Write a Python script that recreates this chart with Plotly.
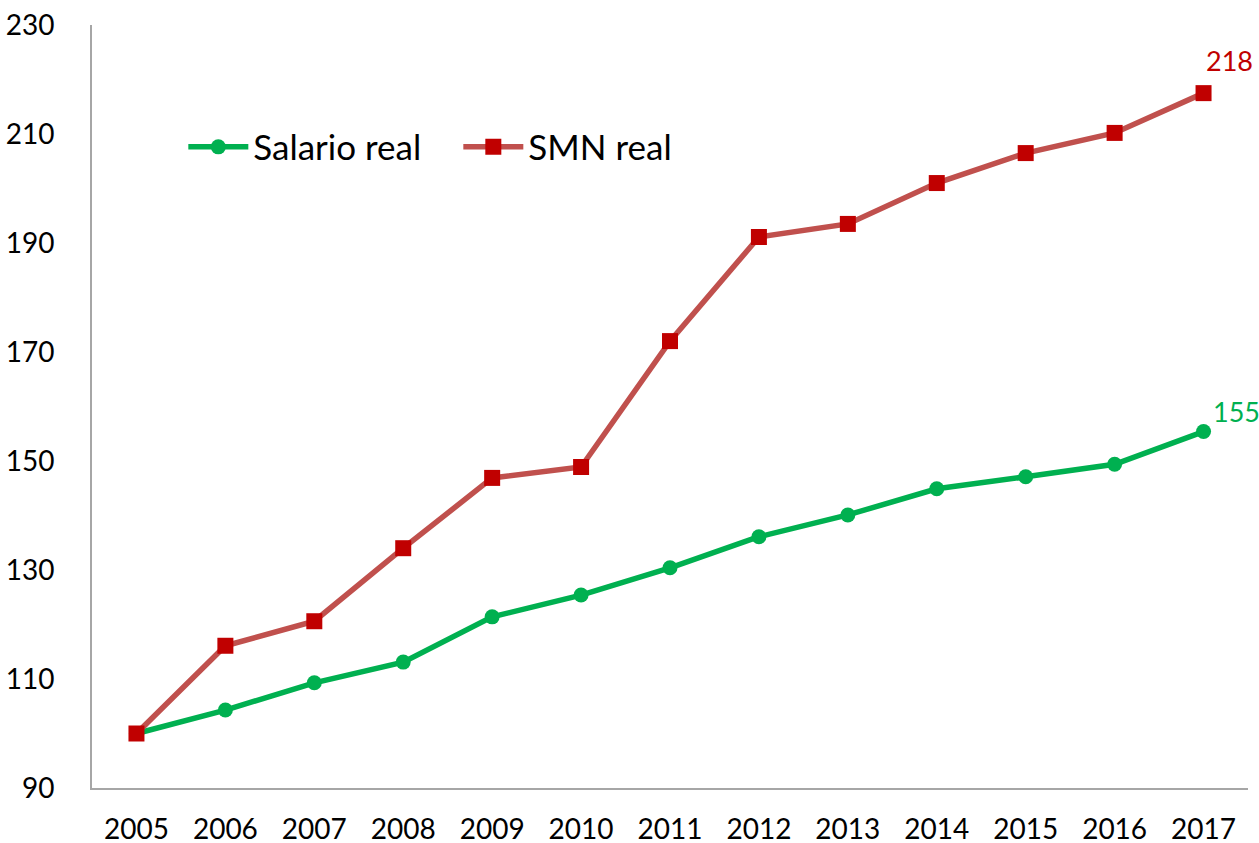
import plotly.graph_objects as go

years = ["2005", "2006", "2007", "2008", "2009", "2010", "2011",
         "2012", "2013", "2014", "2015", "2016", "2017"]
salario_real = [100, 104.3, 109.3, 113.1, 121.4, 125.4, 130.4,
                136.1, 140.1, 144.9, 147.1, 149.4, 155.4]
smn_real = [100, 116.1, 120.6, 134.0, 146.9, 148.9, 172.0,
            191.1, 193.5, 201.0, 206.5, 210.2, 217.5]
y_ticks = [90, 110, 130, 150, 170, 190, 210, 230]

font = "Lato, 'Open Sans', sans-serif"
last = len(years) - 1

fig = go.Figure()
fig.add_trace(go.Scatter(x=years, y=salario_real, name="Salario real",
                         mode="lines+markers",
                         line=dict(color="#00B050", width=5.5),
                         marker=dict(symbol="circle", size=15, color="#00B050")))
fig.add_trace(go.Scatter(x=years, y=smn_real, name="SMN real",
                         mode="lines+markers",
                         line=dict(color="#C0504D", width=5.5),
                         marker=dict(symbol="square", size=16, color="#C00000")))

# end labels
fig.add_annotation(x=last, y=smn_real[-1], text="218", showarrow=False,
                   xanchor="left", yanchor="middle", xshift=0, yshift=33,
                   font=dict(size=27, color="#C00000", family=font))
fig.add_annotation(x=last, y=salario_real[-1], text="155", showarrow=False,
                   xanchor="left", yanchor="middle", xshift=7, yshift=20,
                   font=dict(size=27, color="#00B050", family=font))

fig.update_layout(
    width=1259, height=843,
    margin=dict(l=92, r=11, t=25, b=55, autoexpand=False),
    paper_bgcolor="white", plot_bgcolor="white",
    font=dict(family=font, size=28, color="black"),
    showlegend=True,
    legend=dict(orientation="h", x=0.079, y=0.84, xanchor="left", yanchor="middle",
                font=dict(size=35, family=font), bgcolor="rgba(0,0,0,0)",
                itemwidth=60, entrywidth=200, tracegroupgap=0),
)
fig.update_xaxes(type="category", range=[-0.5, 12.5], showgrid=False,
                 showline=True, linecolor="#A6A6A6", linewidth=2,
                 ticks="", ticklabelstandoff=15, tickfont=dict(size=28),
                 automargin=False, ticklabeloverflow="allow")
fig.update_yaxes(range=[90, 230], tickvals=y_ticks, showgrid=False,
                 showline=True, linecolor="#A6A6A6", linewidth=2,
                 ticks="", ticklabelstandoff=30, tickfont=dict(size=28),
                 zeroline=False, automargin=False, ticklabeloverflow="allow")

# drop the default page margin so the figure fills the window exactly
fig.write_html("out.html", config={"displayModeBar": False},
               post_script="document.body.style.margin='0';")
